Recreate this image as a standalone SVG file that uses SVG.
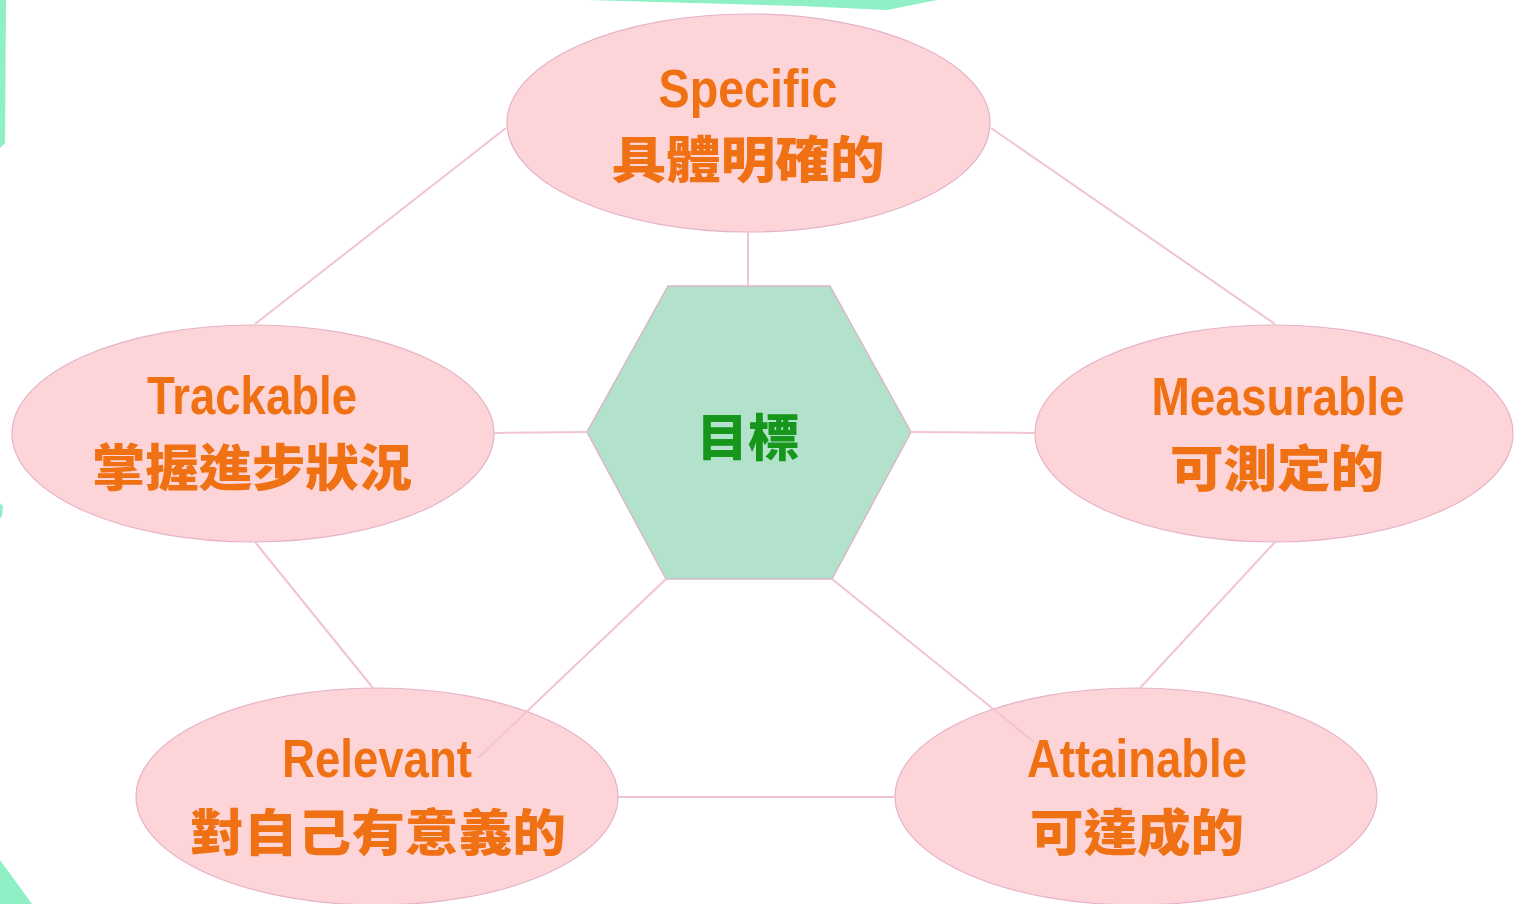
<svg xmlns="http://www.w3.org/2000/svg" width="1514" height="904" viewBox="0 0 1514 904">
<defs>
<style>
.oval{fill:#fdd5d9;stroke:#e6b2c8;stroke-width:1.2}
.hex{fill:#b3e2cc;stroke:#d9b8c4;stroke-width:1.5}
.conn line{stroke:#f1c3d3;stroke-width:2;fill:none}
.en{font-family:"Liberation Sans",Arial,sans-serif;font-weight:bold;font-size:54px;fill:#ef7114;text-anchor:middle}
.zh{font-family:"Noto Sans CJK TC","Noto Sans CJK SC",sans-serif;font-weight:900;font-size:50px;fill:#ef7114;text-anchor:middle}
.goal{font-family:"Noto Sans CJK TC","Noto Sans CJK SC",sans-serif;font-weight:900;font-size:50px;fill:#17961c;text-anchor:middle}
.deco{fill:#8ef0c4}
</style>
</defs>
<rect width="1514" height="904" fill="#ffffff"/>
<g id="decoration">
<polygon class="deco" points="587,0 937,0 887,10 800,6"/>
<polygon class="deco" points="0,0 6,0 5,143 0,148"/>
<polygon class="deco" points="0,503 3,506 2,516 0,518"/>
<polygon class="deco" points="0,860 32,904 0,904"/>
</g>
<g id="node-specific">
<ellipse class="oval" cx="748.5" cy="123" rx="241.5" ry="109"/>
<text class="en" x="748" y="107" textLength="179" lengthAdjust="spacingAndGlyphs">Specific</text>
<text class="zh" x="748" y="178" textLength="273" lengthAdjust="spacingAndGlyphs">具體明確的</text>
</g>
<g id="node-trackable">
<ellipse class="oval" cx="253" cy="433.5" rx="241" ry="108.5"/>
<text class="en" x="252" y="414" textLength="210" lengthAdjust="spacingAndGlyphs">Trackable</text>
<text class="zh" x="252" y="486" textLength="320" lengthAdjust="spacingAndGlyphs">掌握進步狀況</text>
</g>
<g id="node-measurable">
<ellipse class="oval" cx="1274" cy="433.5" rx="239" ry="108.5"/>
<text class="en" x="1278" y="415" textLength="253" lengthAdjust="spacingAndGlyphs">Measurable</text>
<text class="zh" x="1277" y="487" textLength="214" lengthAdjust="spacingAndGlyphs">可測定的</text>
</g>
<g id="node-relevant">
<ellipse class="oval" cx="377" cy="796.5" rx="241" ry="108.5"/>
<text class="en" x="377" y="777" textLength="190" lengthAdjust="spacingAndGlyphs">Relevant</text>
<text class="zh" x="378" y="851" textLength="376" lengthAdjust="spacingAndGlyphs">對自己有意義的</text>
</g>
<g id="node-attainable">
<ellipse class="oval" cx="1136" cy="796.5" rx="241" ry="108.5"/>
<text class="en" x="1137" y="777" textLength="220" lengthAdjust="spacingAndGlyphs">Attainable</text>
<text class="zh" x="1137" y="851" textLength="214" lengthAdjust="spacingAndGlyphs">可達成的</text>
</g>
<g id="node-goal">
<polygon class="hex" points="668,286 830,286 911,432 832,579 666,579 587,432"/>
<text class="goal" x="748" y="456" textLength="103" lengthAdjust="spacingAndGlyphs">目標</text>
</g>
<g id="connectors" class="conn">
<line x1="748" y1="232" x2="748" y2="286"/>
<line x1="494" y1="433" x2="587" y2="432"/>
<line x1="911" y1="432" x2="1035" y2="433"/>
<line x1="666" y1="579" x2="478" y2="758"/>
<line x1="832" y1="579" x2="1034" y2="742"/>
<line x1="506" y1="128" x2="255" y2="324"/>
<line x1="991" y1="128" x2="1275" y2="324"/>
<line x1="255" y1="542" x2="373" y2="688"/>
<line x1="1275" y1="542" x2="1140" y2="688"/>
<line x1="618" y1="797" x2="895" y2="797"/>
</g>
</svg>
